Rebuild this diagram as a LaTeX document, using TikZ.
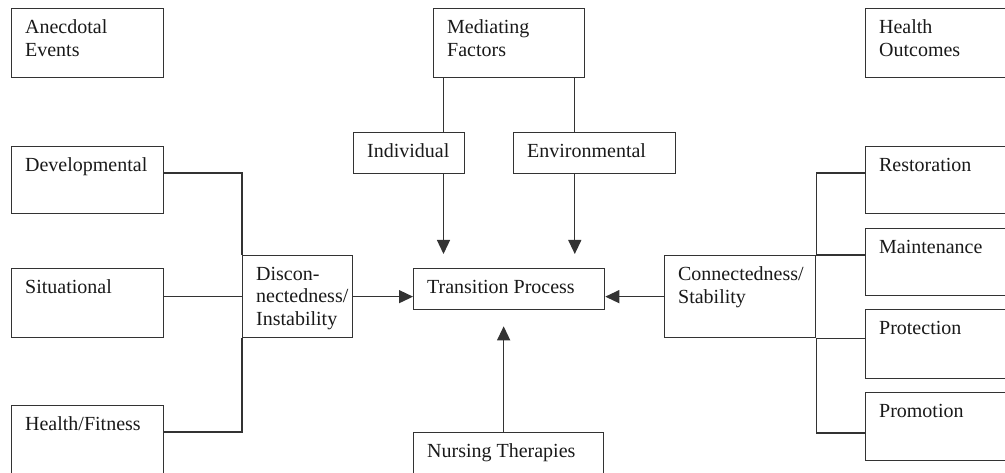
\documentclass[tikz,border=0pt]{standalone}
\usepackage{fontspec}
\setmainfont{Liberation Serif}
\usepackage{tikz}
\usetikzlibrary{arrows.meta}

\begin{document}
\begin{tikzpicture}[x=1pt, y=-1pt, line width=1.3pt, draw=black!80,
        txt/.style={anchor=north west, inner sep=0pt, align=left, xshift=13.5pt, yshift=-11.3pt,
            font=\fontsize{20}{22.5}\selectfont, text=black!90},
        box/.style={draw, rectangle, anchor=north west, inner sep=0pt, label={[txt]north west:#1}},
        wh/.style 2 args={minimum width=#1pt, minimum height=#2pt},
        arr/.style={-{Triangle[length=14pt,width=13pt]}}]
        \useasboundingbox (0,0) rectangle (1005,473);
        \node[box={Anecdotal\\Events}, wh={152}{69}] (anec) at (11,8) {};
        \node[box={Mediating\\Factors}, wh={151}{69}] (med) at (433,8) {};
        \node[box={Health\\Outcomes}, wh={160}{69}] (hout) at (865,8) {};
        \node[box=Individual, wh={111}{41}] (ind) at (353,132) {};
        \node[box=Environmental, wh={162}{41}] (env) at (513,132) {};
        \node[box=Developmental, wh={152}{67}] (dev) at (11,146) {};
        \node[box=Situational, wh={152}{69}] (sit) at (11,268) {};
        \node[box=Health/Fitness, wh={152}{80}] (hf) at (11,405) {};
        \node[box={Discon-\\nectedness/\\Instability}, wh={110}{82}] (dis) at (242,255) {};
        \node[box=Transition Process, wh={191}{41}] (tp) at (413,268) {};
        \node[box=Nursing Therapies, wh={190}{60}] (nt) at (413,432) {};
        \node[box={Connectedness/\\Stability}, wh={151}{82}] (con) at (664,255) {};
        \node[box=Restoration, wh={160}{67}] (res) at (865,146) {};
        \node[box=Maintenance, wh={160}{67}] (mai) at (865,228) {};
        \node[box=Protection, wh={160}{69}] (pro) at (865,309) {};
        \node[box=Promotion, wh={160}{68}] (prm) at (865,392) {};
        \coordinate (mL) at ([xshift=10.5pt]med.south west);
        \coordinate (mR) at ([xshift=-10.5pt]med.south east);
        \coordinate (ntup) at ([xshift=-5pt]nt.north);
        \draw (mL) -- (mL |- ind.north);
        \draw (mR) -- (mR |- env.north);
        \draw[arr, shorten >=14pt] (mL |- ind.south) -- (mL |- tp.north);
        \draw[arr, shorten >=14pt] (mR |- env.south) -- (mR |- tp.north);
        \draw[arr, shorten >=16pt] (ntup) -- (ntup |- tp.south);
        \draw ([yshift=-27pt]dev.north east) -| (dis.north west);
        \draw ([yshift=-27pt]hf.north east) -| (dis.south west);
        \draw (dis.west -| sit.east) -- (dis.west);
        \draw[arr] (dis.east) -- (dis.east -| tp.west);
        \draw[arr] (con.west) -- (con.west -| tp.east);
        \draw ([yshift=-27pt]res.north west) -| (con.north east);
        \draw (con.north east) -- (con.north east -| mai.west);
        \draw (con.south east) -- (con.south east -| pro.west);
        \draw ([yshift=-41pt]prm.north west) -| (con.south east);
    \end{tikzpicture}
\end{document}
